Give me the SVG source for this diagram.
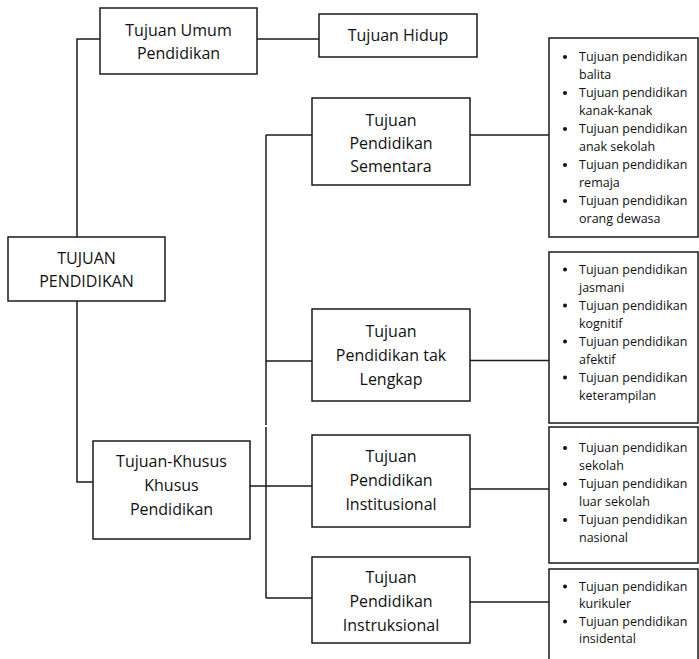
<svg xmlns="http://www.w3.org/2000/svg" width="699" height="659" viewBox="0 0 699 659">
<style>
.box{fill:#fff;stroke:#1a1a1a;stroke-width:1.5}
.con{fill:none;stroke:#1a1a1a;stroke-width:1.5}
.t{font-family:"Open Sans","Noto Sans","Liberation Sans",sans-serif;font-size:16px;fill:#111;text-anchor:middle}
.l{font-family:"Open Sans","Noto Sans","Liberation Sans",sans-serif;font-size:12.5px;fill:#111}
.b{fill:#111}
</style>
<rect width="699" height="659" fill="#fff"/>
<g id="connectors">
<path class="con" d="M77,237 V39 H100"/>
<path class="con" d="M257,39 H319"/>
<path class="con" d="M77,301 V482 H93"/>
<path class="con" d="M250,486 H312"/>
<path class="con" d="M266,135 V425"/>
<path class="con" d="M266,427 V598"/>
<path class="con" d="M266,135 H312"/>
<path class="con" d="M266,361 H312"/>
<path class="con" d="M266,598 H312"/>
<path class="con" d="M470,135 H549"/>
<path class="con" d="M470,360.5 H549"/>
<path class="con" d="M470,489 H549"/>
<path class="con" d="M470,602 H549"/>
</g>
<g id="tujuan-pendidikan">
<rect class="box" x="8" y="237" width="157" height="64"/>
<text class="t" x="86.5" y="264">TUJUAN</text>
<text class="t" x="86.5" y="287">PENDIDIKAN</text>
</g>
<g id="tujuan-umum">
<rect class="box" x="100" y="8" width="157" height="66"/>
<text class="t" x="178.5" y="36">Tujuan Umum</text>
<text class="t" x="178.5" y="59">Pendidikan</text>
</g>
<g id="tujuan-hidup">
<rect class="box" x="319" y="14" width="158" height="43"/>
<text class="t" x="398" y="41">Tujuan Hidup</text>
</g>
<g id="tujuan-khusus">
<rect class="box" x="93" y="441" width="157" height="98"/>
<text class="t" x="171.5" y="467">Tujuan-Khusus</text>
<text class="t" x="171.5" y="491">Khusus</text>
<text class="t" x="171.5" y="515">Pendidikan</text>
</g>
<g id="sementara">
<rect class="box" x="312" y="98" width="158" height="87"/>
<text class="t" x="391" y="126">Tujuan</text>
<text class="t" x="391" y="149">Pendidikan</text>
<text class="t" x="391" y="172">Sementara</text>
</g>
<g id="tak-lengkap">
<rect class="box" x="312" y="309" width="158" height="92"/>
<text class="t" x="391" y="337">Tujuan</text>
<text class="t" x="391" y="361">Pendidikan tak</text>
<text class="t" x="391" y="385">Lengkap</text>
</g>
<g id="institusional">
<rect class="box" x="312" y="435" width="158" height="92"/>
<text class="t" x="391" y="462">Tujuan</text>
<text class="t" x="391" y="486">Pendidikan</text>
<text class="t" x="391" y="510">Institusional</text>
</g>
<g id="instruksional">
<rect class="box" x="312" y="557" width="158" height="86"/>
<text class="t" x="391" y="583">Tujuan</text>
<text class="t" x="391" y="607">Pendidikan</text>
<text class="t" x="391" y="631">Instruksional</text>
</g>
<g id="list-sementara">
<rect class="box" x="549" y="38" width="149" height="199"/>
<circle class="b" cx="565" cy="57" r="2"/>
<text class="l" x="579" y="61">Tujuan pendidikan</text>
<text class="l" x="579" y="79">balita</text>
<circle class="b" cx="565" cy="93" r="2"/>
<text class="l" x="579" y="97">Tujuan pendidikan</text>
<text class="l" x="579" y="115">kanak-kanak</text>
<circle class="b" cx="565" cy="129" r="2"/>
<text class="l" x="579" y="133">Tujuan pendidikan</text>
<text class="l" x="579" y="151">anak sekolah</text>
<circle class="b" cx="565" cy="165" r="2"/>
<text class="l" x="579" y="169">Tujuan pendidikan</text>
<text class="l" x="579" y="187">remaja</text>
<circle class="b" cx="565" cy="201" r="2"/>
<text class="l" x="579" y="205">Tujuan pendidikan</text>
<text class="l" x="579" y="223">orang dewasa</text>
</g>
<g id="list-lengkap">
<rect class="box" x="549" y="252" width="149" height="171"/>
<circle class="b" cx="565" cy="269.5" r="2"/>
<text class="l" x="579" y="273.5">Tujuan pendidikan</text>
<text class="l" x="579" y="291.5">jasmani</text>
<circle class="b" cx="565" cy="305.5" r="2"/>
<text class="l" x="579" y="309.5">Tujuan pendidikan</text>
<text class="l" x="579" y="327.5">kognitif</text>
<circle class="b" cx="565" cy="341.5" r="2"/>
<text class="l" x="579" y="345.5">Tujuan pendidikan</text>
<text class="l" x="579" y="363.5">afektif</text>
<circle class="b" cx="565" cy="377.5" r="2"/>
<text class="l" x="579" y="381.5">Tujuan pendidikan</text>
<text class="l" x="579" y="399.5">keterampilan</text>
</g>
<g id="list-institusional">
<rect class="box" x="549" y="427" width="149" height="136"/>
<circle class="b" cx="565" cy="448" r="2"/>
<text class="l" x="579" y="452">Tujuan pendidikan</text>
<text class="l" x="579" y="470">sekolah</text>
<circle class="b" cx="565" cy="484" r="2"/>
<text class="l" x="579" y="488">Tujuan pendidikan</text>
<text class="l" x="579" y="506">luar sekolah</text>
<circle class="b" cx="565" cy="520" r="2"/>
<text class="l" x="579" y="524">Tujuan pendidikan</text>
<text class="l" x="579" y="542">nasional</text>
</g>
<g id="list-instruksional">
<rect class="box" x="549" y="569" width="149" height="100"/>
<circle class="b" cx="565" cy="586.5" r="2"/>
<text class="l" x="579" y="590.5">Tujuan pendidikan</text>
<text class="l" x="579" y="608">kurikuler</text>
<circle class="b" cx="565" cy="621.5" r="2"/>
<text class="l" x="579" y="625.5">Tujuan pendidikan</text>
<text class="l" x="579" y="643">insidental</text>
</g>
</svg>
